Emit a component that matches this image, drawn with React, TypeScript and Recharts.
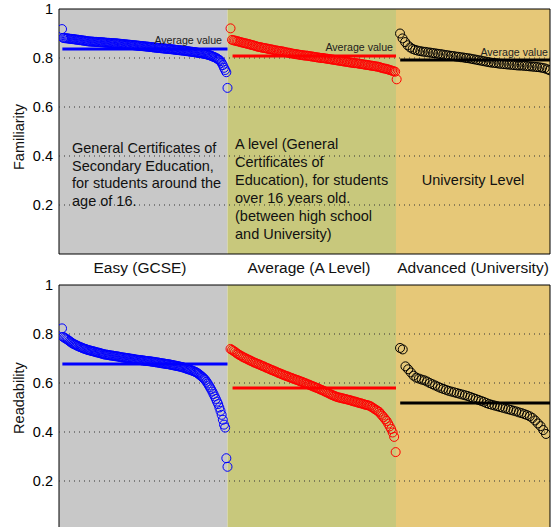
import { ScatterChart, Scatter, XAxis, YAxis, ReferenceArea, ReferenceLine } from 'recharts';

// level names and colours
const levels = ['Easy (GCSE)', 'Average (A Level)', 'Advanced (University)'];
const seriesColors = ['#0000ff', '#ff0000', '#000000'];
const bandFills = ['#c8c8c8', '#c8c87c', '#e6c878'];
const yTicks = [0.2, 0.4, 0.6, 0.8, 1];
const gridTicks = [0.2, 0.4, 0.6, 0.8];

// Familiarity, sorted per level
const familiarityEasy = [
  0.918,
  0.882, 0.881, 0.881, 0.88, 0.88, 0.879, 0.878, 0.878, 0.877, 0.877, 0.876, 0.875, 0.875, 0.874, 0.873,
  0.873, 0.872, 0.871, 0.871, 0.87, 0.869, 0.868,
  0.868, 0.867, 0.867, 0.867, 0.866, 0.866, 0.866, 0.865, 0.865, 0.865, 0.864, 0.864, 0.864, 0.863,
  0.863, 0.862, 0.862, 0.862, 0.861, 0.861, 0.861, 0.86, 0.86, 0.86, 0.859, 0.859, 0.858, 0.858,
  0.857, 0.857, 0.856, 0.856, 0.855, 0.855, 0.854, 0.854, 0.853, 0.853, 0.852, 0.852, 0.851, 0.851,
  0.85, 0.85, 0.849, 0.849, 0.848, 0.848, 0.847, 0.847, 0.846, 0.846, 0.845, 0.845, 0.844, 0.843,
  0.843, 0.842, 0.842, 0.841, 0.841, 0.84, 0.84, 0.839, 0.839, 0.838, 0.838, 0.837, 0.837, 0.836,
  0.836, 0.835, 0.835, 0.834, 0.833, 0.833, 0.832, 0.832, 0.831, 0.831, 0.83, 0.83, 0.829,
  0.828, 0.828, 0.827, 0.826, 0.826, 0.825, 0.824, 0.824, 0.823, 0.822, 0.821, 0.82, 0.82, 0.819,
  0.818, 0.817, 0.816,
  0.815, 0.814, 0.812, 0.811, 0.809, 0.807, 0.805, 0.803, 0.801, 0.798, 0.795, 0.792,
  0.787, 0.78, 0.771, 0.76, 0.751, 0.742, 0.678,
];
const familiarityALevel = [
  0.921,
  0.874, 0.872, 0.871, 0.869, 0.868, 0.866, 0.864, 0.863, 0.861, 0.86, 0.858, 0.857, 0.855, 0.853,
  0.852, 0.85, 0.848, 0.846,
  0.845, 0.844, 0.842, 0.841, 0.84, 0.839, 0.837, 0.836, 0.835, 0.834, 0.832, 0.831, 0.83, 0.829,
  0.828, 0.827, 0.826, 0.824, 0.823, 0.822, 0.821, 0.819,
  0.818, 0.817, 0.816, 0.815, 0.814, 0.813, 0.812, 0.811, 0.81, 0.81, 0.809, 0.808, 0.807, 0.806,
  0.805, 0.804, 0.803, 0.802, 0.801, 0.8, 0.8, 0.799,
  0.798, 0.797, 0.796, 0.795, 0.794, 0.793, 0.792, 0.791, 0.79, 0.789, 0.788, 0.787, 0.786, 0.785,
  0.784, 0.783, 0.782, 0.781, 0.78, 0.779, 0.779, 0.778,
  0.777, 0.776, 0.775, 0.774, 0.773, 0.772, 0.771, 0.77, 0.769, 0.768, 0.767, 0.766, 0.765, 0.764,
  0.762, 0.76, 0.758,
  0.757, 0.756, 0.754, 0.752, 0.75, 0.748, 0.746, 0.744,
  0.713,
];
const familiarityUniversity = [
  0.9, 0.88, 0.865, 0.852, 0.843, 0.837, 0.833, 0.83, 0.828, 0.826,
  0.825, 0.823, 0.822, 0.82, 0.819, 0.817, 0.816, 0.814, 0.812, 0.811,
  0.809, 0.808, 0.806, 0.805, 0.803, 0.802, 0.8, 0.799, 0.797, 0.795,
  0.793, 0.791, 0.789, 0.787, 0.785, 0.783, 0.781, 0.78, 0.779, 0.777,
  0.776, 0.775, 0.774, 0.773, 0.772, 0.771, 0.77, 0.769, 0.769, 0.768,
  0.767, 0.766, 0.765, 0.764, 0.763, 0.762, 0.76, 0.758, 0.754, 0.75,
];
const familiarityAvg = [0.837, 0.808, 0.792];

// Readability
const readabilityEasy = [
  0.823,
  0.788, 0.785, 0.782, 0.779, 0.776, 0.772, 0.769, 0.765,
  0.762, 0.759, 0.757, 0.755, 0.752, 0.75, 0.748, 0.746, 0.744, 0.742, 0.74, 0.739, 0.737, 0.735,
  0.734, 0.733, 0.731, 0.73, 0.729, 0.728, 0.726, 0.725, 0.724, 0.723, 0.721, 0.72, 0.719, 0.717,
  0.716, 0.716, 0.715, 0.714, 0.713, 0.712, 0.712, 0.711, 0.71, 0.709, 0.709, 0.708, 0.707, 0.706,
  0.705,
  0.704, 0.704, 0.703, 0.702, 0.702, 0.701, 0.7, 0.699, 0.699, 0.698, 0.697, 0.696, 0.695,
  0.695, 0.694, 0.694, 0.693, 0.692, 0.692, 0.691, 0.69, 0.69, 0.689, 0.689, 0.688, 0.687, 0.687,
  0.686,
  0.685, 0.684, 0.684, 0.683, 0.682, 0.681, 0.68, 0.68, 0.679, 0.678, 0.677, 0.677, 0.676, 0.675,
  0.674, 0.673, 0.672, 0.671, 0.67, 0.669, 0.668, 0.667, 0.666, 0.665, 0.663, 0.662, 0.66,
  0.658, 0.657, 0.655, 0.654, 0.652, 0.65, 0.648, 0.646, 0.644,
  0.641, 0.638, 0.634, 0.63, 0.626, 0.622, 0.617, 0.612,
  0.605, 0.598, 0.59, 0.582, 0.574, 0.565,
  0.555, 0.545, 0.535, 0.524, 0.514,
  0.5, 0.486, 0.47, 0.45, 0.43,
  0.418, 0.293, 0.258,
];
const readabilityALevel = [
  0.739, 0.735, 0.731, 0.727, 0.722, 0.718, 0.714,
  0.711, 0.707, 0.704, 0.701, 0.698, 0.695, 0.692, 0.689, 0.686,
  0.683, 0.681, 0.678, 0.676, 0.673, 0.67, 0.668, 0.665, 0.662, 0.66, 0.657,
  0.654, 0.652, 0.649, 0.647, 0.644, 0.641, 0.639, 0.636, 0.634, 0.631, 0.629,
  0.627, 0.624, 0.622, 0.62, 0.617, 0.615, 0.613, 0.611, 0.608, 0.606, 0.604,
  0.601, 0.599, 0.596, 0.594, 0.591, 0.589, 0.586, 0.584, 0.581, 0.579, 0.576,
  0.573, 0.571, 0.568, 0.565, 0.562, 0.559, 0.556, 0.553, 0.55, 0.548, 0.545, 0.543,
  0.541, 0.54, 0.538, 0.537, 0.535, 0.534, 0.532, 0.531, 0.529, 0.527,
  0.525, 0.524, 0.522, 0.52, 0.518, 0.517, 0.515, 0.513, 0.511, 0.51, 0.508, 0.506,
  0.502, 0.498, 0.494, 0.49, 0.486, 0.482,
  0.474, 0.467, 0.46, 0.452, 0.445,
  0.434, 0.423, 0.412, 0.398, 0.38,
  0.318,
];
const readabilityUniversity = [
  0.743, 0.737, 0.668, 0.656, 0.643, 0.63, 0.622, 0.618, 0.614, 0.611,
  0.606, 0.6, 0.595, 0.59, 0.585, 0.58, 0.576, 0.572, 0.568, 0.565,
  0.562, 0.559, 0.556, 0.553, 0.55, 0.547, 0.543, 0.539, 0.535, 0.531,
  0.527, 0.523, 0.518, 0.514, 0.511, 0.508, 0.505, 0.502, 0.499, 0.496,
  0.493, 0.49, 0.487, 0.484, 0.48, 0.477, 0.473, 0.469, 0.464, 0.457,
  0.447, 0.435, 0.424, 0.408, 0.392,
];
const readabilityAvg = [0.678, 0.58, 0.518];

const X_MAX = 2.914;
const FONT = '"Liberation Sans", Arial, Helvetica, sans-serif';

// spread a sorted list of values evenly across its level's band
function spread(values: number[], start: number, end: number) {
  return values.map((v, i) => ({ x: start + ((end - start) * i) / (values.length - 1), y: v }));
}

type PanelProps = {
  groups: number[][];
  avgs: number[];
  ends: number[];
  top: number;
};

function Panel({ groups, avgs, ends, top }: PanelProps) {
  const starts = [0.018, 1.018, 2.024];
  const lineStarts = [0.02, 1.03, 2.025];
  const lineEnds = [1.0, 2.0, X_MAX];
  return (
    <div style={{ position: 'absolute', left: 0, top }}>
      <ScatterChart width={553} height={265} margin={{ top: 9, right: 3, bottom: 11, left: 0 }}>
        <XAxis type="number" dataKey="x" domain={[0, X_MAX]} hide allowDataOverflow />
        <YAxis
          type="number"
          dataKey="y"
          domain={[0, 1]}
          ticks={yTicks}
          interval={0}
          width={59}
          axisLine={false}
          tickLine={false}
          tickSize={4}
          tickMargin={2}
          tick={{ fill: '#000', fontSize: 14.5 }}
        />
        {bandFills.map((f, i) => (
          <ReferenceArea
            key={'band' + i}
            x1={i}
            x2={Math.min(i + 1, X_MAX)}
            y1={0}
            y2={1}
            fill={f}
            fillOpacity={1}
            stroke="none"
          />
        ))}
        {gridTicks.map((t) => (
          <ReferenceLine key={'g' + t} y={t} stroke="#333" strokeDasharray="1 4" />
        ))}
        {groups.map((vals, i) => (
          <Scatter
            key={'s' + i}
            data={spread(vals, starts[i], ends[i])}
            isAnimationActive={false}
            shape={(p: any) => (
              <circle cx={p.cx} cy={p.cy} r={4.5} fill="none" stroke={seriesColors[i]} strokeWidth={1} />
            )}
          />
        ))}
        {avgs.map((a, i) => (
          <ReferenceLine
            key={'avg' + i}
            segment={[
              { x: lineStarts[i], y: a },
              { x: lineEnds[i], y: a },
            ]}
            stroke={seriesColors[i]}
            strokeWidth={3}
          />
        ))}
        <ReferenceArea x1={0} x2={X_MAX} y1={0} y2={1} fill="none" stroke="#000" strokeWidth={1} />
      </ScatterChart>
    </div>
  );
}

const abs = (style: React.CSSProperties): React.CSSProperties => ({
  position: 'absolute',
  whiteSpace: 'nowrap',
  color: '#111',
  ...style,
});

export default function App() {
  return (
    <div
      style={{
        position: 'fixed',
        left: 0,
        top: 0,
        width: 553,
        height: 527,
        overflow: 'hidden',
        background: '#fff',
        fontFamily: FONT,
      }}
    >
      <Panel
        groups={[familiarityEasy, familiarityALevel, familiarityUniversity]}
        avgs={familiarityAvg}
        ends={[1.0, 2.004, 2.912]}
        top={0}
      />
      <Panel
        groups={[readabilityEasy, readabilityALevel, readabilityUniversity]}
        avgs={readabilityAvg}
        ends={[1.0, 1.998, 2.89]}
        top={276}
      />

      {/* axis titles */}
      <div style={abs({ left: 19, top: 137, fontSize: 14.5, transform: 'translate(-50%, -50%) rotate(-90deg)' })}>
        Familiarity
      </div>
      <div style={abs({ left: 19, top: 398, fontSize: 14.5, transform: 'translate(-50%, -50%) rotate(-90deg)' })}>
        Readability
      </div>

      {/* level names between the panels */}
      {[140, 309, 473].map((cx, i) => (
        <div key={levels[i]} style={abs({ left: cx, top: 268, fontSize: 15.5, transform: 'translate(-50%, -50%)' })}>
          {levels[i]}
        </div>
      ))}

      {/* "Average value" notes */}
      {[
        [222, 40],
        [393, 47],
        [548, 52],
      ].map(([rx, cy], i) => (
        <div
          key={'av' + i}
          style={abs({ left: rx, top: cy, fontSize: 10.6, transform: 'translate(-100%, -50%)', color: '#222' })}
        >
          Average value
        </div>
      ))}

      {/* level descriptions */}
      <div style={abs({ left: 72, top: 140, fontSize: 14.5, lineHeight: '17.7px' })}>
        General Certificates of
        <br />
        Secondary Education,
        <br />
        for students around the
        <br />
        age of 16.
      </div>
      <div style={abs({ left: 235, top: 135, fontSize: 14.5, lineHeight: '18.1px' })}>
        A level (General
        <br />
        Certificates of
        <br />
        Education), for students
        <br />
        over 16 years old.
        <br />
        (between high school
        <br />
        and University)
      </div>
      <div style={abs({ left: 473, top: 180, fontSize: 14.5, transform: 'translate(-50%, -50%)' })}>
        University Level
      </div>
    </div>
  );
}
